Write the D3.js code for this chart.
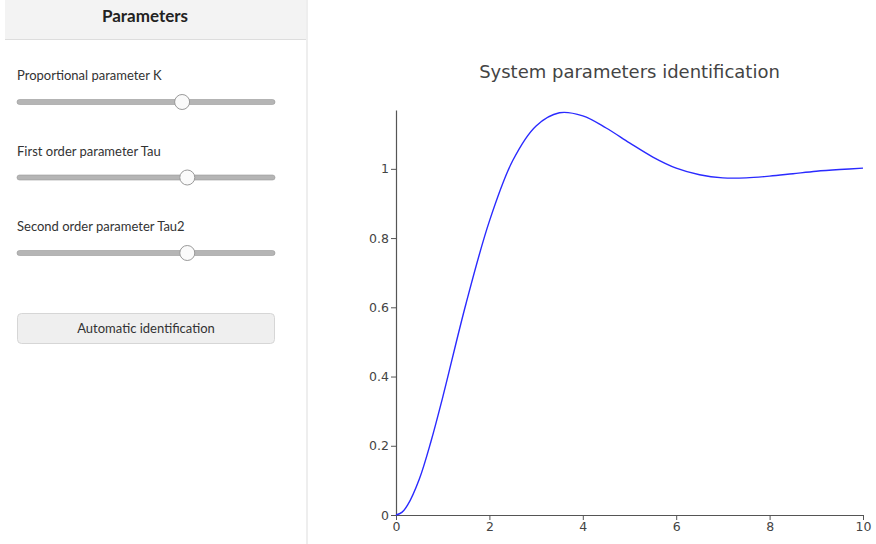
<!DOCTYPE html>
<html>
<head>
<meta charset="utf-8">
<script src="https://cdn.jsdelivr.net/npm/d3@7"></script>
<style>
  body { margin: 0; background: #fff; }
  svg { display: block; }
</style>
</head>
<body>
<svg id="root"></svg>
<script>
// step response
const timeValues = [0, 0.125, 0.25, 0.5, 0.75, 1, 1.5, 2, 2.5, 3, 3.5, 4, 4.5, 5, 5.5, 6, 6.5, 7, 7.5, 8, 8.5, 9, 9.5, 10];
const responseValues = [0, 0.0075, 0.029, 0.104, 0.213, 0.340, 0.611, 0.849, 1.024, 1.124, 1.162, 1.153, 1.118, 1.075, 1.034,
  1.002, 0.983, 0.974, 0.974, 0.979, 0.986, 0.993, 0.998, 1.002];

const xTicks = [0, 2, 4, 6, 8, 10];
const yTicks = [0, 0.2, 0.4, 0.6, 0.8, 1];

// sliders in the left panel (0..1 position of the thumb)
const paramLabels = ['Proportional parameter K', 'First order parameter Tau', 'Second order parameter Tau2'];
const paramValues = [0.64, 0.66, 0.66];

const width = 876, height = 544;
const svg = d3.select('#root').attr('width', width).attr('height', height);

// ---- left panel ----
const panel = svg.append('g').style('font-family', 'Lato, "Open Sans", sans-serif');

panel.append('rect').attr('x', 5).attr('y', 0).attr('width', 301).attr('height', 39).attr('fill', '#f3f3f3');
panel.append('line').attr('x1', 5).attr('x2', 306).attr('y1', 39.5).attr('y2', 39.5).attr('stroke', '#ddd');
panel.append('rect').attr('x', 306).attr('y', 0).attr('width', 2).attr('height', height).attr('fill', '#eeeeee');

panel.append('text').attr('x', 145).attr('y', 22).attr('text-anchor', 'middle')
  .style('font-size', '17px').style('font-weight', 'bold').attr('fill', '#222').text('Parameters');

const sx = d3.scaleLinear().domain([0, 1]).range([17, 275]);

const slider = panel.selectAll('g.slider').data(paramLabels).join('g')
  .attr('class', 'slider')
  .attr('transform', (d, i) => `translate(0,${80 + i * 75.5})`);

slider.append('text').attr('x', 17).attr('y', 0).style('font-size', '13px').attr('fill', '#333').text(d => d);
slider.append('rect').attr('x', sx(0)).attr('y', 19.5).attr('width', sx(1) - sx(0)).attr('height', 5).attr('rx', 2.5)
  .attr('fill', '#b5b5b5').attr('stroke', '#999').attr('stroke-width', 0.6);
slider.append('circle').attr('cx', (d, i) => sx(paramValues[i])).attr('cy', 22).attr('r', 7.5)
  .attr('fill', '#fafafa').attr('stroke', '#999').attr('stroke-width', 1);

panel.append('rect').attr('x', 17.5).attr('y', 313.5).attr('width', 257).attr('height', 30).attr('rx', 4)
  .attr('fill', '#efefef').attr('stroke', '#d6d6d6');
panel.append('text').attr('x', 146).attr('y', 333).attr('text-anchor', 'middle')
  .style('font-size', '13px').attr('fill', '#333').text('Automatic identification');

// ---- chart ----
const x = d3.scaleLinear().domain([0, 10]).range([396, 863]);
const y = d3.scaleLinear().domain([0, 1.17]).range([515, 110]);

const chart = svg.append('g').style('font-family', '"DejaVu Sans", Verdana, sans-serif');

chart.append('text').attr('x', 629.5).attr('y', 78).attr('text-anchor', 'middle')
  .style('font-size', '18px').attr('fill', '#444').text('System parameters identification');

const xAxis = chart.append('g').attr('transform', `translate(0,${y(0)})`)
  .call(d3.axisBottom(x).tickValues(xTicks).tickSize(5).tickSizeOuter(0).tickPadding(2));
const yAxis = chart.append('g').attr('transform', `translate(${x(0)},0)`)
  .call(d3.axisLeft(y).tickValues(yTicks).tickSize(5).tickSizeOuter(0).tickPadding(2).tickFormat(d3.format('')));

for (const ax of [xAxis, yAxis]) {
  ax.select('.domain').attr('stroke', '#555').attr('stroke-width', 1.2);
  ax.selectAll('.tick line').attr('stroke', '#555');
  ax.selectAll('.tick text').attr('fill', '#444').style('font-size', '12.5px').style('font-family', '"DejaVu Sans", Verdana, sans-serif');
}

const line = d3.line()
  .x((d, i) => x(timeValues[i]))
  .y(d => y(d))
  .curve(d3.curveCatmullRom.alpha(0.5));

chart.append('path').datum(responseValues)
  .attr('d', line)
  .attr('fill', 'none')
  .attr('stroke', '#2a2aff')
  .attr('stroke-width', 1.4);
</script>
</body>
</html>
